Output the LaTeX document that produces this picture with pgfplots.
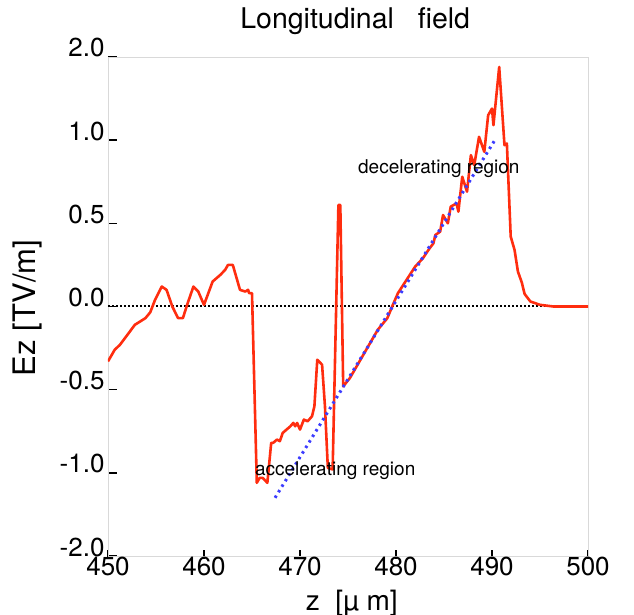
\documentclass[border=0pt]{standalone}
\usepackage{fontspec}
\setmainfont{TeX Gyre Heros}
\usepackage{pgfplots}
\pgfplotsset{compat=1.18}
\definecolor{redline}{RGB}{255,45,15}
\definecolor{blueline}{RGB}{60,60,255}
\begin{document}
\begin{tikzpicture}
\useasboundingbox (-108bp,-59bp) rectangle (526bp,556bp);
\begin{axis}[
  at={(0,0)}, anchor=south west,
  scale only axis, width=480bp, height=499bp,
  xmin=450, xmax=500, ymin=-1.5, ymax=1.5,
  xtick={450,460,470,480,490,500},
  xticklabels={450,460,470,480,490,500},
  ytick={-1.5,-1,-0.5,0,0.5,1,1.5},
  yticklabels={-2.0,-1.0,-0.5,0.0,0.5,1.0,2.0},
  axis line style={black!15},
  tick pos=left,
  tick align=inside, major tick length=9bp,
  tick style={black, line width=1.5bp},
  every x tick/.append style={yshift=-3bp},
  tick label style={font=\fontsize{26bp}{28bp}\selectfont},
  xticklabel style={inner sep=1bp},
  yticklabel style={anchor=base east},
  title={Longitudinal\ \ \ field},
  title style={font=\fontsize{28.5bp}{30bp}\selectfont, at={(axis description cs:0.515,1)}, anchor=base, yshift=23bp},
  xlabel={z\ \ [µ m]},
  xlabel style={font=\fontsize{28bp}{30bp}\selectfont, at={(axis description cs:0.508,0)}, anchor=base, yshift=-54bp},
  ylabel={Ez [TV/m]},
  ylabel style={font=\fontsize{31bp}{33bp}\selectfont, at={(axis description cs:-0.1667,0.497)}, anchor=center},
  clip=true,
]
\addplot[black, line width=2bp, dash pattern=on 2bp off 2bp] coordinates {(450,0) (500,0)};
\addplot[redline, line width=2.6bp, line join=round] table {
x y
450.0 -0.33
450.7 -0.26
451.25 -0.23
452.8 -0.11
453.9 -0.07
454.4 -0.035
454.9 0.04
455.6 0.12
456.1 0.10
456.7 0.0
457.3 -0.07
457.8 -0.07
458.3 0.02
458.9 0.12
459.4 0.09
460.0 0.01
460.9 0.15
461.7 0.19
462.2 0.22
462.5 0.25
463.0 0.25
463.75 0.10
464.3 0.09
464.6 0.10
464.7 0.08
465.0 0.08
465.5 -1.06
465.8 -1.03
466.1 -1.03
466.6 -1.06
467.0 -0.82
467.2 -0.82
467.6 -0.80
467.9 -0.81
468.2 -0.76
468.6 -0.74
469.0 -0.72
469.3 -0.70
469.5 -0.72
469.7 -0.70
470.0 -0.74
470.4 -0.68
470.8 -0.69
471.25 -0.66
471.5 -0.60
471.8 -0.32
472.3 -0.35
472.6 -0.60
472.9 -0.97
473.4 -0.98
474.0 0.61
474.2 0.61
474.5 -0.48
475.2 -0.43
475.7 -0.38
476.5 -0.30
477.3 -0.22
478.1 -0.14
479.1 -0.07
479.6 0.0
480.2 0.08
481.1 0.16
482.0 0.24
482.8 0.29
483.5 0.35
483.9 0.38
484.1 0.43
484.6 0.45
484.9 0.55
485.4 0.50
485.7 0.60
486.3 0.62
486.5 0.57
486.9 0.78
487.4 0.69
487.8 0.91
488.15 0.85
488.65 1.02
489.2 0.93
489.6 1.15
490.0 1.19
490.15 1.09
490.75 1.44
491.3 0.97
491.55 0.98
491.95 0.42
492.35 0.34
492.7 0.21
493.1 0.145
493.4 0.075
494.0 0.03
495.0 0.01
496.4 0.0
500.0 0.0
};
\addplot[blueline, line width=3bp, dash pattern=on 2.5bp off 4bp] coordinates {(467.4,-1.15) (490.4,1.01)};
\node[anchor=base west, font=\fontsize{19bp}{20bp}\selectfont, inner sep=0pt] at (axis cs:476.04,0.798) {decelerating region};
\node[anchor=base west, font=\fontsize{19bp}{20bp}\selectfont, inner sep=0pt] at (axis cs:465.3,-1.015) {accelerating region};
\end{axis}
\end{tikzpicture}
\end{document}
